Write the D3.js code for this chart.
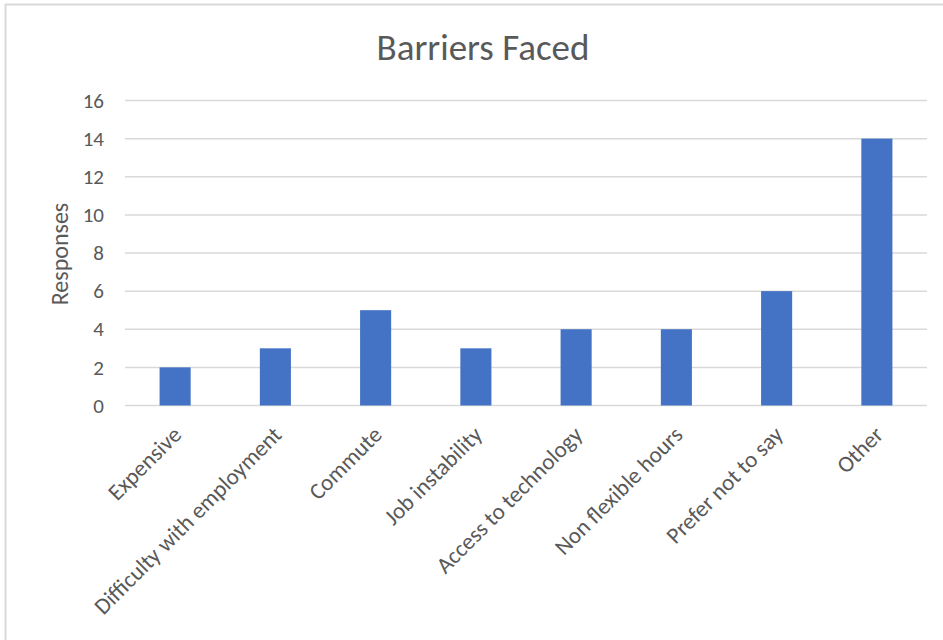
<!DOCTYPE html>
<html>
<head>
<meta charset="utf-8">
<script src="https://cdn.jsdelivr.net/npm/d3@7"></script>
<style>
  html, body { margin: 0; padding: 0; background: #fff; }
  svg { display: block; }
  text { font-family: Carlito, Calibri, Lato, "Open Sans", sans-serif; fill: #595959; }
</style>
</head>
<body>
<svg id="chart" width="943" height="640"></svg>
<script>
// Survey responses per barrier
const categories = [
  "Expensive",
  "Difficulty with employment",
  "Commute",
  "Job instability",
  "Access to technology",
  "Non flexible hours",
  "Prefer not to say",
  "Other"
];
const responses = [2, 3, 5, 3, 4, 4, 6, 14];
const yTicks = [0, 2, 4, 6, 8, 10, 12, 14, 16];

const svg = d3.select("#chart");

// Chart area outline
svg.append("rect")
  .attr("x", 5.5).attr("y", 4.5)
  .attr("width", 1200).attr("height", 1200)
  .attr("fill", "none")
  .attr("stroke", "#d9d9d9")
  .attr("stroke-width", 2);

const plot = { left: 125, right: 927, top: 100.5, bottom: 405.5 };

const x = d3.scaleBand()
  .domain(categories)
  .range([plot.left, plot.right])
  .paddingInner(0.69)
  .paddingOuter(0.345);

const y = d3.scaleLinear()
  .domain([0, 16])
  .range([plot.bottom, plot.top]);

// Horizontal gridlines
svg.append("g")
  .selectAll("line")
  .data(yTicks)
  .join("line")
  .attr("x1", plot.left).attr("x2", plot.right)
  .attr("y1", d => y(d)).attr("y2", d => y(d))
  .attr("stroke", "#d9d9d9")
  .attr("stroke-width", 1.5);

// Y axis labels
const yAxis = d3.axisLeft(y).tickValues(yTicks).tickSize(0).tickPadding(0);
const gy = svg.append("g")
  .attr("transform", `translate(${104},0)`)
  .call(yAxis);
gy.select(".domain").remove();
gy.selectAll("text")
  .style("font-size", "21px")
  .attr("fill", "#595959");

// Bars
svg.append("g")
  .selectAll("rect")
  .data(categories.map((c, i) => ({ c, v: responses[i] })))
  .join("rect")
  .attr("x", d => x(d.c))
  .attr("y", d => y(d.v))
  .attr("width", x.bandwidth())
  .attr("height", d => y(0) - y(d.v))
  .attr("fill", "#4472c4");

// Category labels, rotated
const xAxis = d3.axisBottom(x).tickSize(0).tickPadding(0);
const gx = svg.append("g")
  .attr("transform", `translate(0,${plot.bottom})`)
  .call(xAxis);
gx.select(".domain").remove();
gx.selectAll(".tick text")
  .style("font-size", "23px")
  .attr("fill", "#5f5f5f")
  .attr("text-anchor", "end")
  .attr("x", 2)
  .attr("y", 25)
  .attr("dy", "0.35em")
  .attr("transform", "rotate(-45, 2, 25)");

// Title
svg.append("text")
  .attr("x", 483)
  .attr("y", 60)
  .attr("text-anchor", "middle")
  .style("font-size", "37px")
  .text("Barriers Faced");

// Y axis title
svg.append("text")
  .attr("transform", `translate(68,254) rotate(-90)`)
  .attr("text-anchor", "middle")
  .style("font-size", "24px")
  .text("Responses");
</script>
</body>
</html>
